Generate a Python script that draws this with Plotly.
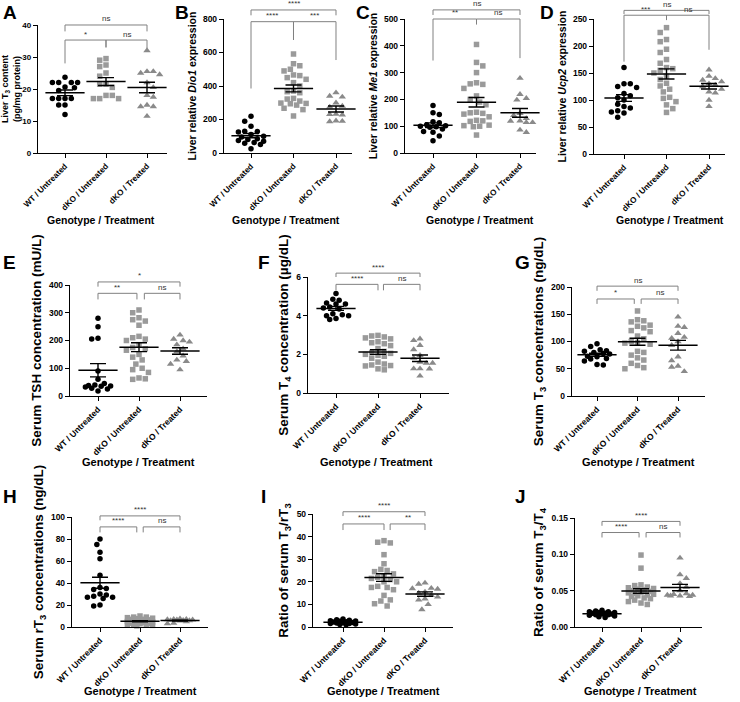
import numpy as np
import plotly.graph_objects as go

W, H = 740, 702
FONT = "Liberation Sans, Arial, Helvetica, sans-serif"

categories = ["WT / Untreated", "dKO / Untreated", "dKO / Treated"]
x_title = "Genotype / Treatment"

# ---------------- data ----------------
A_wt = [23.7, 22, 22, 22, 22, 20.6, 20.4, 19.5, 17, 17, 17, 17, 15, 15, 12]
A_ko = [29.5, 29, 27.5, 27, 25, 24, 21.5, 21.5, 20.5, 18, 18, 17, 17, 17]
A_tx = [32, 25.5, 25.5, 25, 24.5, 22, 20.5, 18, 17.5, 15, 14.5, 14.5, 11.5]

B_wt = [220, 190, 160, 130, 128, 125, 110, 100, 95, 85, 80, 75, 70, 62, 58, 50, 25]
B_ko = [591, 533, 521, 500, 490, 466, 462, 450, 440, 420, 400, 370, 366, 360, 326, 322,
        310, 298, 296, 294, 286, 267, 259, 221]
B_tx = [360, 340, 335, 300, 280, 275, 232, 230, 228, 192, 190, 188]

C_wt = [177, 150, 144, 117, 113, 105, 102, 100, 98, 96, 90, 80, 77, 63, 46]
C_ko = [405, 338, 325, 300, 262, 258, 256, 241, 213, 200, 190, 180, 152, 150, 148, 145,
        135, 122, 120, 118, 104, 102, 100, 98, 67]
C_tx = [279, 219, 204, 198, 148, 140, 129, 120, 119, 114, 114, 86, 77]

D_wt = [160, 130, 130, 125, 123, 112, 108, 104, 100, 92, 88, 85, 80, 78, 76, 68]
D_ko = [234, 225, 212, 208, 194, 188, 175, 168, 160, 158, 155, 150, 144, 138, 131, 126,
        120, 115, 105, 103, 97, 91, 84, 77]
D_tx = [156, 144, 140, 137, 134, 130, 128, 125, 120, 115, 113, 100, 88]

E_wt = [280, 250, 208, 205, 90, 60, 45, 40, 38, 36, 35, 32, 28, 25, 18]
E_ko = [310, 300, 282, 275, 270, 255, 215, 210, 205, 200, 185, 175, 170, 165, 150, 140,
        130, 115, 100, 95, 85, 65, 62, 60]
E_tx = [220, 205, 200, 195, 185, 170, 160, 145, 130, 125, 115, 95]

F_wt = [5.15, 4.85, 4.8, 4.65, 4.6, 4.6, 4.45, 4.4, 4.35, 4.1, 4.05, 4.0, 4.0, 3.85, 3.8]
F_ko = [2.98, 2.95, 2.9, 2.85, 2.8, 2.65, 2.6, 2.55, 2.45, 2.3, 2.15, 2.1, 2.05, 2.0,
        1.95, 1.9, 1.8, 1.6, 1.5, 1.45, 1.42, 1.4, 1.25, 1.2]
F_tx = [2.8, 2.72, 2.47, 2.25, 1.95, 1.8, 1.6, 1.55, 1.55, 1.26, 1.26, 1.25, 0.88]

G_wt = [96, 91, 85, 83, 82, 80, 78, 77, 73, 72, 69, 68, 64, 58, 57]
G_ko = [156, 140, 138, 136, 130, 128, 125, 120, 118, 110, 105, 100, 98, 97, 95, 82,
        80, 75, 70, 66, 60, 56, 52, 50]
G_tx = [145, 128, 126, 115, 108, 106, 100, 93, 72, 65, 55, 53, 45]

H_wt = [80, 75, 68, 62, 47, 36, 35, 34, 30, 29, 28, 27, 27, 26, 20, 19]
H_ko = [10, 9, 9, 8.5, 8, 7.5, 7, 7, 6.5, 6, 5.5, 5, 5, 4.5, 4, 4, 3.5, 3, 3, 2.5,
        2.5, 2, 1.5, 1]
H_tx = [7.5, 7, 7, 6.8, 6.5, 6.5, 6.2, 6, 5.8, 5.5, 5, 3.5, 3]

I_wt = [3.5, 3.2, 3.0, 2.8, 2.6, 2.5, 2.3, 2.2, 2.0, 1.9, 1.8, 1.6, 1.5, 1.3, 1.1, 1.0]
I_ko = [38.2, 37.5, 37.2, 32, 28, 25.5, 25, 24.5, 23.5, 22.5, 22, 21.5, 21, 20, 20, 18,
        17.5, 17.5, 16.5, 14, 12, 11.5, 10.3, 9.3]
I_tx = [19.5, 19, 17.2, 17, 16.8, 15.5, 15, 14, 13.3, 12.5, 12, 10, 7.7]

J_wt = [0.023, 0.022, 0.021, 0.021, 0.020, 0.020, 0.019, 0.019, 0.018, 0.018, 0.017,
        0.017, 0.016, 0.015, 0.014, 0.013]
J_ko = [0.099, 0.081, 0.058, 0.057, 0.055, 0.054, 0.053, 0.052, 0.051, 0.050, 0.049,
        0.048, 0.047, 0.046, 0.045, 0.044, 0.043, 0.042, 0.040, 0.039, 0.037, 0.035,
        0.033, 0.031]
J_tx = [0.095, 0.072, 0.067, 0.060, 0.055, 0.050, 0.046, 0.045, 0.044, 0.044, 0.043,
        0.043, 0.042]

# y-axis titles
y_titles = {
    "A": "Liver T<sub>3</sub> content<br>(pg/mg protein)",
    "B": "Liver relative <i>Dio1</i> expression",
    "C": "Liver relative <i>Me1</i> expression",
    "D": "Liver relative <i>Ucp2</i> expression",
    "E": "Serum TSH concentration (mU/L)",
    "F": "Serum T<sub>4</sub> concentration (µg/dL)",
    "G": "Serum T<sub>3</sub> concentrations (ng/dL)",
    "H": "Serum rT<sub>3</sub> concentrations (ng/dL)",
    "I": "Ratio of serum T<sub>3</sub>/rT<sub>3</sub>",
    "J": "Ratio of serum T<sub>3</sub>/T<sub>4</sub>",
}
y_max = {"A": 40, "B": 800, "C": 500, "D": 250, "E": 400, "F": 6, "G": 200,
         "H": 100, "I": 50, "J": 0.15}
y_dtick = {"A": 10, "B": 200, "C": 100, "D": 50, "E": 100, "F": 2, "G": 50,
           "H": 20, "I": 10, "J": 0.05}

# significance brackets: (x_left, x_right, y_line, y_left_end, y_right_end, label)
brackets = {
    "A": [(0, 2, 40, 38, 38, "ns"), (0, 1, 35.3, 28, 33, "*"), (1, 2, 35.3, 33, 32.7, "ns")],
    "B": [(0, 2, 854, 822, 822, "****"), (0, 1, 784, 385, 675, "****"),
          (1, 2, 784, 675, 555, "***")],
    "C": [(0, 2, 534, 515, 515, "ns"), (0, 1, 500, 345, 480, "**"),
          (1, 2, 500, 480, 354, "ns")],
    "D": [(0, 2, 266, 259, 259, "ns"), (0, 1, 257, 171, 248, "***"),
          (1, 2, 257, 248, 193, "ns")],
    "E": [(0, 2, 411, 394, 394, "*"), (0, 0.95, 370, 348, 348, "**"),
          (1.13, 2, 370, 348, 348, "ns")],
    "F": [(0, 2, 6.2, 6.0, 6.0, "****"), (0, 1, 5.62, 5.31, 5.31, "****"),
          (1.13, 2, 5.62, 5.31, 5.31, "ns")],
    "G": [(0, 2, 201.6, 193, 193, "ns"), (0, 0.92, 178, 169, 169, "*"),
          (1.09, 2, 178, 169, 169, "ns")],
    "H": [(0, 2, 101, 97, 97, "****"), (0, 0.92, 91, 86, 86, "****"),
          (1.08, 2, 91, 86, 86, "ns")],
    "I": [(0, 2, 51, 49.1, 49.1, "****"), (0, 1, 45.6, 42.9, 42.9, "****"),
          (1.15, 2, 45.6, 42.9, 42.9, "**")],
    "J": [(0, 2, 0.1453, 0.1393, 0.1393, "****"), (0, 0.95, 0.130, 0.1232, 0.1232, "****"),
          (1.13, 2, 0.130, 0.1232, 0.1232, "ns")],
}

series = {
    "A": (A_wt, A_ko, A_tx), "B": (B_wt, B_ko, B_tx), "C": (C_wt, C_ko, C_tx),
    "D": (D_wt, D_ko, D_tx), "E": (E_wt, E_ko, E_tx), "F": (F_wt, F_ko, F_tx),
    "G": (G_wt, G_ko, G_tx), "H": (H_wt, H_ko, H_tx), "I": (I_wt, I_ko, I_tx),
    "J": (J_wt, J_ko, J_tx),
}

# ---------------- layout geometry (pixels) ----------------
geom = {
    "A": dict(left=38, right=167, first=65, spacing=41, top=25, bottom=153, row=1),
    "B": dict(left=224, right=352, first=251, spacing=42.5, top=19, bottom=153, row=1),
    "C": dict(left=405, right=536, first=433, spacing=43.5, top=19, bottom=153, row=1),
    "D": dict(left=594, right=725, first=624, spacing=42.5, top=19, bottom=154, row=1),
    "E": dict(left=70, right=207, first=98, spacing=41, top=285, bottom=396, row=2),
    "F": dict(left=308, right=449, first=336, spacing=42, top=277, bottom=393, row=2),
    "G": dict(left=572, right=705, first=597, spacing=40.5, top=287, bottom=396, row=2),
    "H": dict(left=72, right=208, first=100, spacing=40, top=517, bottom=627, row=3),
    "I": dict(left=313, right=453, first=343, spacing=41, top=514, bottom=627, row=3),
    "J": dict(left=575, right=702, first=602, spacing=39, top=518, bottom=627, row=3),
}
letter_pos = {"A": (1, 0), "B": (173, 0), "C": (354, 0), "D": (538, 0),
              "E": (1, 250), "F": (256, 250), "G": (513, 250),
              "H": (1, 484), "I": (259, 484), "J": (513, 484)}
xtitle_px = {"A": (101, 220), "B": (286, 220), "C": (480, 220), "D": (670, 220),
             "E": (138, 462), "F": (376, 462), "G": (638, 462),
             "H": (140, 691), "I": (383, 691), "J": (640, 691)}

styles = [dict(symbol="circle", size=5.5, color="#000000"),
          dict(symbol="square", size=5.5, color="#9a9a9a"),
          dict(symbol="triangle-up", size=6.5, color="#8a8a8a")]


def px2paper(px, py):
    return px / W, 1 - py / H


def swarm_offsets(vals, px_per_unit, px_per_cat, diam=6.3, max_half=14.0):
    v = np.asarray(vals, float)
    y = v * px_per_unit
    order = np.argsort(-v, kind="stable")
    step = diam / 2.0
    base = [0.0]
    k = 1
    while k * step <= max_half + 1e-9:
        base.append(k * step)
        k += 1
    px_x = np.zeros(len(v))
    placed = []
    for n, idx in enumerate(order):
        sign = 1 if n % 2 == 0 else -1
        cands = [0.0]
        for b in base[1:]:
            cands += [sign * b, -sign * b]
        best, best_score = 0.0, -1.0
        for c in cands:
            if placed:
                dmin = min(np.hypot(c - px, y[idx] - py) for px, py in placed)
            else:
                dmin = np.inf
            if dmin >= diam:
                best = c
                break
            if dmin > best_score:
                best_score, best = dmin, c
        px_x[idx] = best
        placed.append((best, y[idx]))
    return px_x / px_per_cat


fig = go.Figure()
shapes = []
annotations = []

for n, key in enumerate(geom.keys(), start=1):
    g = geom[key]
    ax_sfx = "" if n == 1 else str(n)
    xa, ya = "x" + ax_sfx, "y" + ax_sfx
    ymax = y_max[key]
    row1 = g["row"] == 1
    px_per_unit = (g["bottom"] - g["top"]) / ymax
    xr = [(g["left"] - g["first"]) / g["spacing"], (g["right"] - g["first"]) / g["spacing"]]

    means, sems = [], []
    for ci, vals in enumerate(series[key]):
        arr = np.asarray(vals, float)
        offs = swarm_offsets(arr, px_per_unit, g["spacing"])
        st = styles[ci]
        fig.add_trace(go.Scatter(
            x=ci + offs, y=arr, mode="markers", xaxis=xa, yaxis=ya,
            marker=dict(symbol=st["symbol"], size=st["size"], color=st["color"],
                        line=dict(width=0)),
            cliponaxis=False, showlegend=False, hoverinfo="skip"))
        means.append(arr.mean())
        sems.append(arr.std(ddof=1) / np.sqrt(len(arr)))

    fig.add_trace(go.Scatter(
        x=[0, 1, 2], y=means, mode="markers", xaxis=xa, yaxis=ya,
        marker=dict(symbol="line-ew", size=28, color="black",
                    line=dict(width=1.5, color="black")),
        error_y=dict(type="data", array=sems, visible=True, width=8,
                     thickness=1.4, color="black"),
        cliponaxis=False, showlegend=False, hoverinfo="skip"))

    tick_size = 8 if key == "A" else 8.5
    xtick_size = 8.2 if row1 else 8.5
    title_size = (9 if key == "A" else 10.5) if row1 else 13.5
    x0p, y1p = px2paper(g["left"], g["top"])
    x1p, y0p = px2paper(g["right"], g["bottom"])
    fig.update_layout(**{
        ("xaxis" + ax_sfx): dict(
            domain=[x0p, x1p], range=xr, anchor=ya, automargin=False,
            tickmode="array", tickvals=[0, 1, 2], ticktext=categories,
            tickangle=-45, ticks="outside", ticklen=4, tickwidth=1.2, tickcolor="black",
            showline=True, linewidth=1.4, linecolor="black", showgrid=False,
            zeroline=False, fixedrange=True,
            tickfont=dict(family=FONT, size=xtick_size, color="black", weight="bold")),
        ("yaxis" + ax_sfx): dict(
            domain=[y0p, y1p], range=[0, ymax], anchor=xa, automargin=False,
            tickmode="array",
            tickvals=list(np.round(np.arange(0, ymax + y_dtick[key] / 2, y_dtick[key]), 6)),
            tickformat=".2f" if key == "J" else "",
            ticks="outside", ticklen=4, tickwidth=1.2, tickcolor="black",
            showline=True, linewidth=1.4, linecolor="black", showgrid=False,
            zeroline=False, fixedrange=True,
            tickfont=dict(family=FONT, size=tick_size, color="black", weight="bold"),
            title=dict(text=y_titles[key], standoff=3 if key == "A" else 4,
                       font=dict(family=FONT, size=title_size, color="black", weight="bold"))),
    })

    def to_px(xc, yv):
        return g["first"] + xc * g["spacing"], g["bottom"] - yv * px_per_unit

    for (xl, xrgt, yl, ye0, ye1, lab) in brackets[key]:
        pts = [px2paper(*to_px(xl, ye0)), px2paper(*to_px(xl, yl)),
               px2paper(*to_px(xrgt, yl)), px2paper(*to_px(xrgt, ye1))]
        path = "M " + " L ".join(f"{px:.5f},{py:.5f}" for px, py in pts)
        shapes.append(dict(type="path", xref="paper", yref="paper", path=path,
                           line=dict(color="#808080", width=1)))
        cx, cy = to_px((xl + xrgt) / 2, yl)
        ax_, ay_ = px2paper(cx, cy - 0.5)
        annotations.append(dict(
            x=ax_, y=ay_, xref="paper", yref="paper",
            text=lab, showarrow=False, xanchor="center", yanchor="bottom",
            borderpad=0,
            font=dict(family=FONT, size=8, color="#333333")))

    lx, ly = px2paper(*letter_pos[key])
    annotations.append(dict(
        x=lx, y=ly, xref="paper", yref="paper", text=key,
        showarrow=False, xanchor="left", yanchor="top",
        font=dict(family=FONT, size=19, color="black", weight="bold")))

    tx, ty = px2paper(*xtitle_px[key])
    annotations.append(dict(
        x=tx, y=ty, xref="paper", yref="paper", text=x_title,
        showarrow=False, xanchor="center", yanchor="middle",
        font=dict(family=FONT, size=10.5 if row1 else 11, color="black", weight="bold")))

fig.update_layout(
    width=W, height=H, margin=dict(l=0, r=0, t=0, b=0, autoexpand=False),
    paper_bgcolor="white", plot_bgcolor="white",
    shapes=shapes, annotations=annotations, showlegend=False,
    font=dict(family=FONT, color="black"),
)

# the figure fills the whole 740x702 window: drop the browser's default body margin
fig.write_html("out.html", config={"displayModeBar": False},
               post_script="document.body.style.margin = '0';")
